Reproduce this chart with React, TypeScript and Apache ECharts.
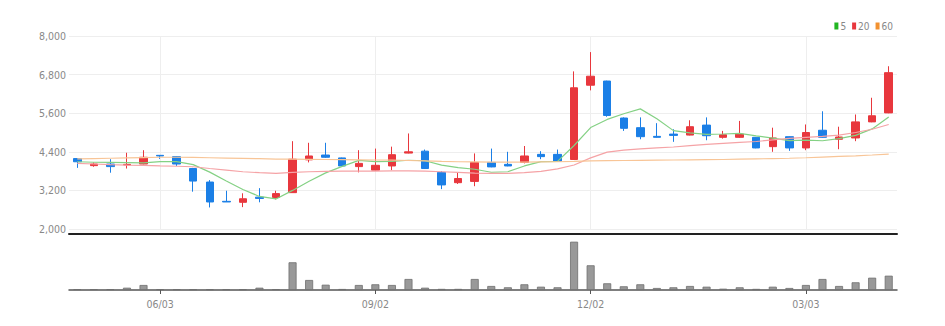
import React, { useEffect, useRef } from "react";
import * as echarts from "echarts";

const categories = [
  "04/29", "05/06", "05/13", "05/20", "05/27", "06/03", "06/10", "06/17", "06/24", "07/01",
  "07/08", "07/15", "07/22", "07/29", "08/05", "08/12", "08/19", "08/26", "09/02", "09/09",
  "09/16", "09/23", "09/30", "10/07", "10/14", "10/21", "10/28", "11/04", "11/11", "11/18",
  "11/25", "12/02", "12/09", "12/16", "12/23", "12/30", "01/06", "01/13", "01/20", "01/27",
  "02/03", "02/10", "02/17", "02/24", "03/03", "03/10", "03/17", "03/24", "03/31", "04/07",
];

const opens = [
  4190, 3970, 4020, 3990, 4020, 4290, 4250, 3880, 3460, 2860,
  2830, 2990, 2980, 3130, 4150, 4300, 4210, 3940, 3830, 3960,
  4360, 4420, 3760, 3440, 3480, 4070, 4010, 4070, 4320, 4320,
  4160, 6470, 6600, 5450, 5150, 4880, 4950, 4920, 5230, 4850,
  4850, 4850, 4560, 4870, 4520, 5070, 4790, 4830, 5330, 5610,
];
const closes = [
  4090, 4020, 3940, 4010, 4230, 4270, 4020, 3490, 2840, 2840,
  2940, 2950, 3100, 4170, 4270, 4230, 3960, 4040, 3980, 4310,
  4400, 3880, 3370, 3570, 4070, 3930, 3960, 4270, 4250, 4110,
  6390, 6750, 5530, 5130, 4870, 4850, 4910, 5180, 4900, 4930,
  4950, 4520, 4830, 4520, 5000, 4850, 4860, 5330, 5520, 6860,
];
const lows = [
  3900, 3935, 3750, 3880, 4010, 4180, 3960, 3160, 2670, 2840,
  2680, 2830, 2920, 3120, 4070, 4210, 3950, 3760, 3820, 3830,
  4350, 3870, 3240, 3400, 3330, 3920, 3950, 4040, 4170, 4100,
  4150, 6310, 5490, 5050, 4790, 4840, 4710, 4910, 4760, 4810,
  4830, 4510, 4400, 4430, 4450, 4840, 4480, 4730, 5320, 5600,
];
const highs = [
  4200, 4070, 4170, 4370, 4450, 4300, 4260, 3900, 3520, 3190,
  3110, 3270, 3190, 4730, 4680, 4680, 4220, 4450, 4500, 4560,
  4970, 4470, 3800, 3750, 4350, 4500, 4400, 4580, 4420, 4470,
  6900, 7500, 6610, 5470, 5470, 5290, 5100, 5380, 5470, 5050,
  5360, 4860, 5150, 4880, 5250, 5660, 5180, 5560, 6080, 7060,
];

const ma5 = [
  4090, 4075, 4070, 4065, 4058, 4092, 4092, 4002, 3768, 3490,
  3226, 3012, 2934, 3200, 3486, 3744, 3946, 4134, 4096, 4104,
  4138, 4122, 3988, 3906, 3858, 3764, 3780, 3960, 4096, 4104,
  4596, 5154, 5406, 5582, 5734, 5426, 5058, 4988, 4942, 4954,
  4974, 4896, 4826, 4750, 4764, 4744, 4812, 4912, 5112, 5484,
];
const ma20 = [
  4040, 4020, 4000, 3985, 3975, 3960, 3950, 3935, 3880, 3830,
  3780, 3750, 3730, 3760, 3780, 3790, 3800, 3800, 3800, 3810,
  3810, 3800, 3780, 3760, 3740, 3730, 3730, 3750, 3790, 3870,
  3990, 4210, 4390, 4450, 4490, 4520, 4550, 4590, 4630, 4660,
  4690, 4720, 4770, 4820, 4850, 4880, 4920, 5000, 5100, 5250,
];
const ma60 = [
  4180, 4190, 4200, 4210, 4220, 4230, 4230, 4225, 4215, 4205,
  4195, 4185, 4175, 4170, 4165, 4160, 4155, 4150, 4145, 4140,
  4130, 4115, 4100, 4090, 4085, 4080, 4080, 4080, 4085, 4090,
  4100, 4120, 4125, 4130, 4135, 4140, 4145, 4150, 4155, 4160,
  4170, 4180, 4190, 4200, 4215, 4235, 4255, 4275, 4300, 4330,
];

const volumes = [
  90, 90, 90, 230, 500, 80, 80, 80, 80, 80,
  80, 230, 90, 2770, 1000, 530, 100, 500, 570, 500,
  1100, 230, 110, 110, 1100, 400, 270, 570, 330, 270,
  4830, 2470, 670, 370, 570, 200, 270, 400, 330, 130,
  270, 110, 330, 200, 500, 1100, 400, 770, 1230, 1430,
];

const priceTicks = [2000, 3200, 4400, 5600, 6800, 8000];
const labelDates = ["06/03", "09/02", "12/02", "03/03"];

const FONT = "'Liberation Sans Narrow', 'DejaVu Sans Condensed', 'Roboto', sans-serif";

export default function App() {
  const ref = useRef<HTMLDivElement>(null);

  useEffect(() => {
    if (!ref.current) return;
    const chart = echarts.init(ref.current, undefined, { renderer: "svg" });
    const showIdx = (i: number) => labelDates.includes(categories[i]);
    const candleData = categories.map((_, i) => [opens[i], closes[i], lows[i], highs[i]]);

    chart.setOption({
      animation: false,
      backgroundColor: "#ffffff",
      legend: {
        right: 47,
        top: 16,
        icon: "rect",
        itemWidth: 4,
        itemHeight: 7,
        itemGap: 6,
        textStyle: { color: "#888", fontSize: 10, fontFamily: FONT, padding: [0, 0, 0, -3] },
        data: [
          { name: "5", itemStyle: { color: "#22b522" } },
          { name: "20", itemStyle: { color: "#e8373d" } },
          { name: "60", itemStyle: { color: "#f29130" } },
        ],
        selectedMode: false,
      },
      grid: [
        { left: 69, width: 828, top: 36, height: 193 },
        { left: 69, width: 828, top: 240, height: 50 },
      ],
      xAxis: [
        {
          type: "category",
          gridIndex: 0,
          data: categories,
          offset: 5,
          axisLine: { show: true, lineStyle: { color: "#222", width: 2 } },
          axisTick: { show: false },
          axisLabel: { show: false },
          splitLine: {
            show: true,
            interval: (i: number) => showIdx(i),
            alignWithLabel: true,
            lineStyle: { color: "#eeeeee", width: 1 },
          },
        },
        {
          type: "category",
          gridIndex: 1,
          data: categories,
          axisLine: { show: true, lineStyle: { color: "#555", width: 1.5 } },
          axisTick: {
            show: true,
            length: 4,
            alignWithLabel: true,
            interval: (i: number) => showIdx(i),
            lineStyle: { color: "#555" },
          },
          axisLabel: {
            interval: (i: number) => showIdx(i),
            color: "#888",
            fontSize: 10.5,
            fontFamily: FONT,
            margin: 8,
          },
          splitLine: { show: false },
        },
      ],
      yAxis: [
        {
          type: "value",
          gridIndex: 0,
          min: 2000,
          max: 8000,
          axisLine: { show: false },
          axisTick: { show: false, customValues: priceTicks },
          axisLabel: {
            customValues: priceTicks,
            color: "#888",
            fontSize: 10.5,
            fontFamily: FONT,
            margin: 3,
            formatter: (v: number) => v.toLocaleString("en-US"),
          },
          splitLine: { show: true, lineStyle: { color: "#eeeeee", width: 1 } },
        },
        {
          type: "value",
          gridIndex: 1,
          min: 0,
          max: 5000,
          show: false,
          splitLine: { show: false },
        },
      ],
      series: [
        {
          name: "5",
          type: "line",
          xAxisIndex: 0,
          yAxisIndex: 0,
          data: ma5,
          symbol: "none",
          lineStyle: { color: "#84d184", width: 1.2 },
          itemStyle: { color: "#84d184" },
        },
        {
          name: "20",
          type: "line",
          xAxisIndex: 0,
          yAxisIndex: 0,
          data: ma20,
          symbol: "none",
          lineStyle: { color: "#f5a3a6", width: 1.2 },
          itemStyle: { color: "#f5a3a6" },
        },
        {
          name: "60",
          type: "line",
          xAxisIndex: 0,
          yAxisIndex: 0,
          data: ma60,
          symbol: "none",
          lineStyle: { color: "#f8c597", width: 1.2 },
          itemStyle: { color: "#f8c597" },
        },
        {
          name: "price",
          type: "candlestick",
          xAxisIndex: 0,
          yAxisIndex: 0,
          data: candleData,
          barWidth: 8,
          itemStyle: {
            color: "#e8373d",
            color0: "#1b7fe6",
            borderColor: "#e8373d",
            borderColor0: "#1b7fe6",
            borderWidth: 1,
          },
        },
        {
          name: "volume",
          type: "bar",
          xAxisIndex: 1,
          yAxisIndex: 1,
          data: volumes,
          barWidth: 8,
          itemStyle: { color: "#999999", borderColor: "#6f6f6f", borderWidth: 0.8 },
        },
      ],
    });

    return () => chart.dispose();
  }, []);

  return (
    <div
      ref={ref}
      style={{ position: "fixed", left: 0, top: 0, width: 945, height: 326, background: "#fff" }}
    />
  );
}
